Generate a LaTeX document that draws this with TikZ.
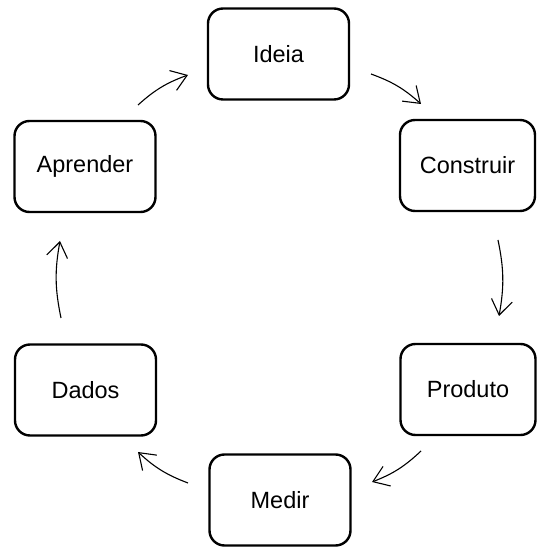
\documentclass[tikz,border=0pt]{standalone}
\usepackage{fontspec}
\setmainfont{Liberation Sans}
\usetikzlibrary{arrows.meta,calc}
\begin{document}
\begin{tikzpicture}[x=1pt,y=1pt,
  stage/.style={draw=black, line width=2.4pt, rounded corners=15pt,
    minimum width=141pt, minimum height=91pt, inner sep=0pt,
    font=\fontsize{23.5}{27}\selectfont},
  flow/.style={line width=1.1pt,
    -{Straight Barb[length=15pt,width=21pt,line width=1.1pt]}}]
  \useasboundingbox (0,0) rectangle (537,549);

  % the six stages of the cycle
  \node[stage] (ideia)     at (278.5,495) {Ideia};
  \node[stage, minimum width=135pt] (construir) at (467.5,383.5) {Construir};
  \node[stage, minimum width=135pt] (produto)   at (468,159.5) {Produto};
  \node[stage] (medir)     at (280,49) {Medir};
  \node[stage] (dados)     at (85.5,159) {Dados};
  \node[stage] (aprender)  at (85,382.5) {Aprender};

  % free ends of the connectors, placed next to each stage
  \coordinate (a1) at ($(aprender)+(53,61.5)$);
  \coordinate (b1) at ($(ideia)+(-90.5,-21)$);
  \coordinate (a2) at ($(ideia)+(92.5,-20)$);
  \coordinate (b2) at ($(construir)+(-46.5,61.5)$);
  \coordinate (a3) at ($(construir)+(30.5,-74.5)$);
  \coordinate (b3) at ($(produto)+(31,73.5)$);
  \coordinate (a4) at ($(produto)+(-47,-61.5)$);
  \coordinate (b4) at ($(medir)+(92,18)$);
  \coordinate (a5) at ($(medir)+(-92,17)$);
  \coordinate (b5) at ($(dados)+(52.5,-62)$);
  \coordinate (a6) at ($(dados)+(-24.5,72)$);
  \coordinate (b6) at ($(aprender)+(-25,-74.5)$);

  % clockwise arrows
  \draw[flow] (a1) to[bend left=11] (b1);
  \draw[flow] (a2) to[bend left=11] (b2);
  \draw[flow] (a3) to[bend left=11] (b3);
  \draw[flow] (a4) to[bend left=11] (b4);
  \draw[flow] (a5) to[bend left=11] (b5);
  \draw[flow] (a6) to[bend left=11] (b6);
\end{tikzpicture}
\end{document}
